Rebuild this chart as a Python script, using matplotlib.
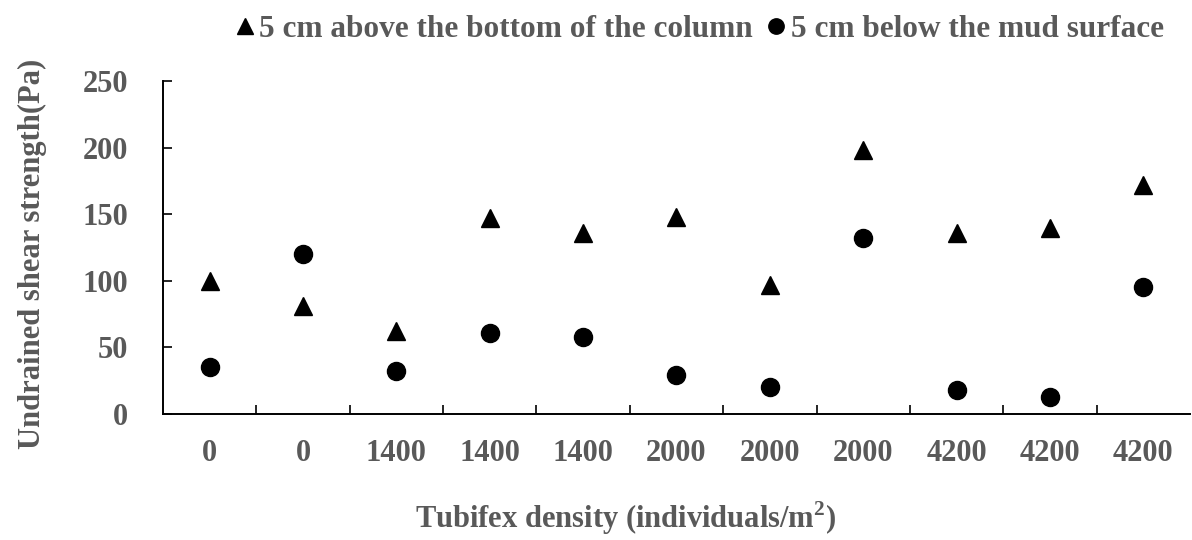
import matplotlib.pyplot as plt
import numpy as np

plt.rcParams['font.family'] = ['Liberation Serif', 'DejaVu Serif']
plt.rcParams['font.weight'] = 'bold'
plt.rcParams['axes.labelweight'] = 'bold'
plt.rcParams['mathtext.fontset'] = 'custom'
plt.rcParams['mathtext.bf'] = 'Liberation Serif:bold'
plt.rcParams['mathtext.rm'] = 'Liberation Serif:bold'

density = ['0', '0', '1400', '1400', '1400', '2000', '2000', '2000', '4200', '4200', '4200']
above_bottom = [100, 81, 62, 147, 136, 148, 97, 198, 136, 140, 172]
below_surface = [35, 120, 32, 61, 58, 29, 20, 132, 18, 13, 95]

grey = '#595959'

fig = plt.figure(figsize=(11.92, 5.40), dpi=100)
ax = fig.add_axes([0.1367, 0.2333, 0.8616, 0.6167])

x = np.arange(len(density))
ax.plot(x, above_bottom, linestyle='none', marker='^', color='black',
        markersize=13, label='5 cm above the bottom of the column')
ax.plot(x, below_surface, linestyle='none', marker='o', color='black',
        markersize=13, label='5 cm below the mud surface')

ax.set_xlim(-0.5, len(density) - 0.5)
ax.set_ylim(0, 250)
ax.set_yticks(np.arange(0, 251, 50))
ax.set_xticks(x)
ax.set_xticklabels(density)
ax.set_xticks(np.arange(0.5, len(density) - 1, 1), minor=True)

for side in ['top', 'right']:
    ax.spines[side].set_visible(False)
for side in ['left', 'bottom']:
    ax.spines[side].set_linewidth(1.4)

ax.tick_params(axis='y', direction='in', length=6.5, width=1.2, pad=25,
               labelsize=22, labelcolor=grey)
ax.tick_params(axis='x', which='major', length=0, pad=18,
               labelsize=22, labelcolor=grey)
ax.tick_params(axis='x', which='minor', direction='in', length=6.5, width=1.2)

ax.set_ylabel('Undrained shear strength(Pa)', fontsize=22, color=grey)
ax.yaxis.set_label_coords(-0.113, 0.48)
ax.set_xlabel('Tubifex density (individuals/m$^{\\mathbf{2}}$)', fontsize=22, color=grey)
ax.xaxis.set_label_coords(0.45, -0.257)

leg = fig.legend(loc='center', bbox_to_anchor=(0.585, 0.946), ncol=2,
                 frameon=False, fontsize=22.5, handletextpad=0.0,
                 columnspacing=0.3, markerscale=0.85, handlelength=0.9)
for t in leg.get_texts():
    t.set_color(grey)

fig.savefig('out.png', dpi=100)
